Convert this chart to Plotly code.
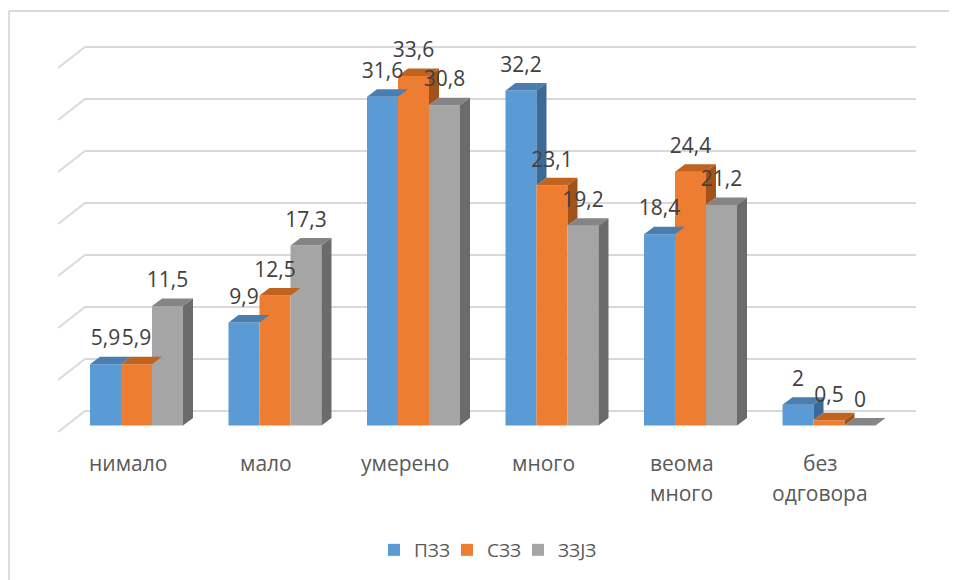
import plotly.graph_objects as go

# ---------------- data ----------------
categories = ["нимало", "мало", "умерено", "много", "веома<br>много", "без<br>одговора"]
series_names = ["ПЗЗ", "СЗЗ", "ЗЗЈЗ"]
pzz = [5.9, 9.9, 31.6, 32.2, 18.4, 2.0]
szz = [5.9, 12.5, 33.6, 23.1, 24.4, 0.5]
zzjz = [11.5, 17.3, 30.8, 19.2, 21.2, 0.0]
grid_values = [0, 5, 10, 15, 20, 25, 30, 35]

front_colors = ["#5B9BD5", "#ED7D31", "#A5A5A5"]
top_colors = ["#4A7DB0", "#BF631F", "#858585"]
side_colors = ["#3C6A96", "#A2531A", "#6B6B6B"]

# ---------------- geometry (pixel based scale set-up) ----------------
OFF = 8                      # browser page body margin
W, H = 957 - OFF, 580 - OFF  # figure size
PX_PER_CAT = 138.5           # distance between category groups
CAT0_PX = 136.5 - OFF        # pixel x of first group centre
BASE_PX = 425.5 - OFF        # pixel y of value 0 at bar front
PX_PER_UNIT = 10.4           # pixels per value unit

xmin = -CAT0_PX / PX_PER_CAT
xmax = xmin + W / PX_PER_CAT
ymax = BASE_PX / PX_PER_UNIT
ymin = ymax - H / PX_PER_UNIT


def dxu(px):
    return px / PX_PER_CAT


def dyu(px):
    return px / PX_PER_UNIT


bar_w = dxu(31)
depth_dx = dxu(10)
depth_dy = dyu(7.5)

FONT = "Open Sans"
series = [pzz, szz, zzjz]
legend_ids = ["legend", "legend2", "legend3"]
legend_sym_px = [394, 467, 538]   # page x of each legend swatch centre

fig = go.Figure()

for k, (name, vals) in enumerate(zip(series_names, series)):
    xs = [i + (k - 1) * bar_w for i in range(len(categories))]
    fig.add_trace(go.Bar(
        x=xs, y=vals, width=bar_w, name=name, legend=legend_ids[k],
        marker=dict(color=front_colors[k], line=dict(width=0)),
        hoverinfo="skip",
    ))

# 3D faces (top + visible side) built from data
for k, vals in enumerate(series):
    tx, ty, sx, sy = [], [], [], []
    for i, v in enumerate(vals):
        c = i + (k - 1) * bar_w
        h = bar_w / 2
        tx += [c - h, c + h, c + h + depth_dx, c - h + depth_dx, c - h, None]
        ty += [v, v, v + depth_dy, v + depth_dy, v, None]
        lo = series[k + 1][i] if k + 1 < len(series) else 0.0
        if v > lo:
            sx += [c + h, c + h + depth_dx, c + h + depth_dx, c + h, c + h, None]
            sy += [lo, lo + depth_dy, v + depth_dy, v, lo, None]
    fig.add_trace(go.Scatter(x=tx, y=ty, mode="lines", fill="toself",
                             fillcolor=top_colors[k], line=dict(width=0),
                             showlegend=False, hoverinfo="skip"))
    if sx:
        fig.add_trace(go.Scatter(x=sx, y=sy, mode="lines", fill="toself",
                                 fillcolor=side_colors[k], line=dict(width=0),
                                 showlegend=False, hoverinfo="skip"))

# data labels
for k, vals in enumerate(series):
    xs = [i + (k - 1) * bar_w for i in range(len(categories))]
    fig.add_trace(go.Scatter(
        x=xs, y=[v + dyu(24) for v in vals], mode="text",
        text=[f"{v:g}".replace(".", ",") for v in vals],
        textposition="middle center",
        textfont=dict(family=FONT, size=21, color="#404040"),
        showlegend=False, hoverinfo="skip", cliponaxis=False,
    ))

# gridlines on side and back walls
shapes = []
fx0, bx0, rx = dxu(58 - 136.5), dxu(85 - 136.5), dxu(916 - 136.5)
f_off, b_off = -dyu(6.5), dyu(14.5)
for g in grid_values:
    shapes.append(dict(
        type="path", xref="x", yref="y", layer="below",
        path=f"M {fx0},{g + f_off} L {bx0},{g + b_off} L {rx},{g + b_off}",
        line=dict(color="#D9D9D9", width=1.8),
    ))
# chart border (left and top edges visible)
shapes.append(dict(type="line", xref="paper", yref="paper",
                   x0=1 / W, x1=1 / W, y0=0, y1=1 - 3 / H,
                   line=dict(color="#D9D9D9", width=1.8), layer="below"))
shapes.append(dict(type="line", xref="paper", yref="paper",
                   x0=1 / W, x1=1, y0=1 - 3 / H, y1=1 - 3 / H,
                   line=dict(color="#D9D9D9", width=1.8), layer="below"))

# category labels
annotations = []
for i, cat in enumerate(categories):
    for j, line in enumerate(cat.split("<br>")):
        annotations.append(dict(
            x=i - dxu(9), y=-dyu(463 - 425.5 + 30 * j), xref="x", yref="y",
            text=line, showarrow=False, xanchor="center", yanchor="middle",
            font=dict(family=FONT, size=21, color="#595959"),
        ))

legend_common = dict(
    orientation="h", xanchor="left", yanchor="middle",
    y=1 - (550 - OFF) / H,
    font=dict(family=FONT, size=19, color="#595959"),
    bgcolor="rgba(0,0,0,0)", itemclick=False, borderwidth=0,
)
legend_layout = {
    lid: dict(legend_common, x=(px - 20 - OFF) / W)
    for lid, px in zip(legend_ids, legend_sym_px)
}

fig.update_layout(
    width=W, height=H,
    margin=dict(l=0, r=0, t=0, b=0),
    paper_bgcolor="white", plot_bgcolor="white",
    barmode="overlay",
    xaxis=dict(range=[xmin, xmax], visible=False, fixedrange=True),
    yaxis=dict(range=[ymin, ymax], visible=False, fixedrange=True),
    shapes=shapes, annotations=annotations,
    showlegend=True,
    **legend_layout,
)

fig.write_html("out.html", config={"displayModeBar": False})
